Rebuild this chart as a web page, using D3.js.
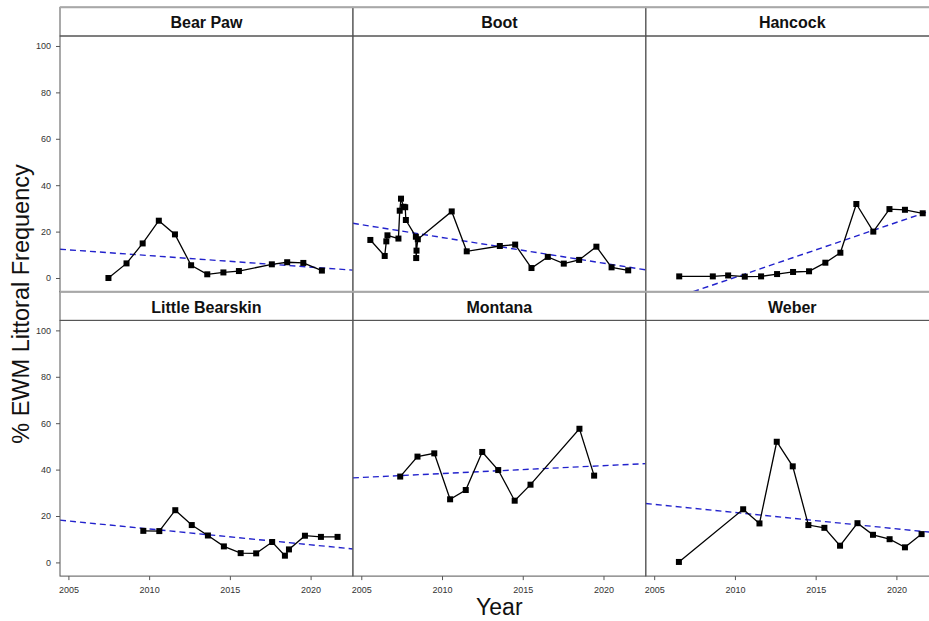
<!DOCTYPE html>
<html>
<head>
<meta charset="utf-8">
<script src="https://cdn.jsdelivr.net/npm/d3@7"></script>
<style>
  body { margin: 0; background: #fff; }
  svg { display: block; font-family: "Liberation Sans", Arial, sans-serif; }
</style>
</head>
<body>
<div id="chart"></div>
<script>
// lake names, in panel order (top row then bottom row)
var lakes = ["Bear Paw", "Boot", "Hancock", "Little Bearskin", "Montana", "Weber"];

// [year, % EWM littoral frequency] per lake
var bearPaw = [[2007.48, 0], [2008.6, 6.3], [2009.6, 14.9], [2010.6, 24.7], [2011.6, 18.8], [2012.6, 5.5],
               [2013.6, 1.6], [2014.6, 2.4], [2015.56, 3.0], [2017.6, 5.9], [2018.55, 6.8], [2019.55, 6.5], [2020.7, 3.2]];
var boot = [[2005.56, 16.4], [2006.45, 9.5], [2006.55, 15.8], [2006.62, 18.4], [2007.3, 17.0], [2007.38, 29.0],
            [2007.46, 34.2], [2007.62, 30.7], [2007.72, 30.5], [2007.76, 25.0], [2008.38, 17.8], [2008.4, 8.6],
            [2008.42, 11.8], [2008.5, 16.7], [2010.6, 28.7], [2011.53, 11.5], [2013.58, 13.8], [2014.53, 14.4],
            [2015.54, 4.3], [2016.55, 9.1], [2017.54, 6.2], [2018.49, 7.8], [2019.56, 13.5], [2020.5, 4.6], [2021.53, 3.3]];
var hancock = [[2006.55, 0.7], [2008.63, 0.7], [2009.58, 1.1], [2010.61, 0.6], [2011.62, 0.7], [2012.61, 1.7],
               [2013.6, 2.6], [2014.59, 2.9], [2015.6, 6.6], [2016.53, 10.9], [2017.52, 31.9], [2018.57, 20.0],
               [2019.57, 29.7], [2020.53, 29.4], [2021.63, 27.9]];
var littleBearskin = [[2009.64, 13.6], [2010.63, 13.5], [2011.62, 22.5], [2012.64, 16.1], [2013.64, 11.6],
                      [2014.63, 6.9], [2015.67, 4.0], [2016.63, 3.9], [2017.62, 8.8], [2018.41, 2.9], [2018.66, 5.6],
                      [2019.65, 11.5], [2020.64, 11.0], [2021.67, 11.0]];
var montana = [[2007.41, 37.0], [2008.48, 45.6], [2009.52, 47.0], [2010.5, 27.2], [2011.47, 31.2], [2012.49, 47.6],
               [2013.48, 39.8], [2014.5, 26.6], [2015.48, 33.5], [2018.51, 57.6], [2019.42, 37.4]];
var weber = [[2006.53, 0.2], [2010.51, 22.9], [2011.52, 16.8], [2012.59, 52.0], [2013.58, 41.4], [2014.55, 16.1],
             [2015.54, 14.9], [2016.51, 7.2], [2017.59, 16.9], [2018.55, 11.9], [2019.58, 10.0], [2020.53, 6.5],
             [2021.56, 12.2]];
var series = [bearPaw, boot, hancock, littleBearskin, montana, weber];

// fitted trend line, value at 2005 and at 2020
var trendAt2005 = [12.15, 23.0, -11.6, 17.85, 36.6, 25.0];
var trendAt2020 = [4.7, 6.4, 23.95, 7.6, 41.7, 14.5];
var trendYears = [2005, 2020];

var yTicks = [0, 20, 40, 60, 80, 100];
var xTicks = [2005, 2010, 2015, 2020];

var width = 929, height = 621;
var left = 60, top0 = 7.3;
var pw = 292.9, ph = 255.7, sh = 28.7;

var svg = d3.select("#chart").append("svg")
    .attr("width", width)
    .attr("height", height);

var x = d3.scaleLinear().domain([2004.48, 2022.62]).range([0, pw]);
var y = d3.scaleLinear().domain([-5.9, 104.3]).range([ph, 0]);

var line = d3.line()
    .x(function(d) { return x(d[0]); })
    .y(function(d) { return y(d[1]); });

lakes.forEach(function(name, i) {
    var col = i % 3, row = Math.floor(i / 3);
    var px = left + col * pw;
    var sy = top0 + row * (sh + ph);
    var py = sy + sh;

    var g = svg.append("g").attr("transform", "translate(" + px + "," + py + ")");

    svg.append("clipPath").attr("id", "clip" + i)
        .append("rect").attr("width", pw).attr("height", ph);

    // trend line (dashed blue), clipped to the panel
    var t = d3.scaleLinear().domain(trendYears).range([trendAt2005[i], trendAt2020[i]]);
    var ends = x.domain().map(function(yr) { return [yr, t(yr)]; });
    g.append("path")
        .attr("clip-path", "url(#clip" + i + ")")
        .attr("d", line(ends))
        .attr("fill", "none")
        .attr("stroke", "#2222cc")
        .attr("stroke-width", 1.4)
        .attr("stroke-dasharray", "6,4");

    // data line + square markers
    g.append("path")
        .attr("d", line(series[i]))
        .attr("fill", "none")
        .attr("stroke", "#000")
        .attr("stroke-width", 1.3);

    g.selectAll("rect.pt")
        .data(series[i])
        .enter()
        .append("rect")
        .attr("class", "pt")
        .attr("x", function(d) { return x(d[0]) - 3; })
        .attr("y", function(d) { return y(d[1]) - 3; })
        .attr("width", 6)
        .attr("height", 6)
        .attr("fill", "#000");

    // panel border
    g.append("rect")
        .attr("width", pw).attr("height", ph)
        .attr("fill", "none")
        .attr("stroke", "#555")
        .attr("stroke-width", 1);

    // strip
    svg.append("rect")
        .attr("x", px).attr("y", sy)
        .attr("width", pw).attr("height", sh)
        .attr("fill", "none")
        .attr("stroke", "#555")
        .attr("stroke-width", 1);
    svg.append("text")
        .attr("x", px + pw / 2)
        .attr("y", sy + 21)
        .attr("text-anchor", "middle")
        .style("font-size", "16px")
        .style("font-weight", "bold")
        .attr("fill", "#111")
        .text(name);

    if (col === 0) {
        var ya = g.append("g")
            .call(d3.axisLeft(y).tickValues(yTicks).tickSize(4).tickPadding(5));
        ya.select(".domain").remove();
        ya.selectAll("line").attr("stroke", "#555");
        ya.selectAll("text").attr("fill", "#333").style("font-size", "9px")
            .style("font-family", "Liberation Sans, Arial, sans-serif");
    }
    if (row === 1) {
        var xa = g.append("g")
            .attr("transform", "translate(0," + ph + ")")
            .call(d3.axisBottom(x).tickValues(xTicks).tickFormat(d3.format("d")).tickSize(4).tickPadding(7));
        xa.select(".domain").remove();
        xa.selectAll("line").attr("stroke", "#555");
        xa.selectAll("text").attr("fill", "#333").style("font-size", "9px")
            .style("font-family", "Liberation Sans, Arial, sans-serif");
    }
});

// lighter horizontal rules (top of strips and row joint)
[top0, top0 + sh + ph].forEach(function(yy) {
    svg.append("line")
        .attr("x1", left).attr("x2", left + 3 * pw)
        .attr("y1", yy).attr("y2", yy)
        .attr("stroke", "#a8a8a8")
        .attr("stroke-width", 2);
});

// axis titles
svg.append("text")
    .attr("transform", "translate(29," + 304 + ") rotate(-90)")
    .attr("text-anchor", "middle")
    .style("font-size", "23.5px")
    .attr("fill", "#111")
    .text("% EWM Littoral Frequency");

svg.append("text")
    .attr("x", left + 1.5 * pw)
    .attr("y", 615)
    .attr("text-anchor", "middle")
    .style("font-size", "23px")
    .attr("fill", "#111")
    .text("Year");
</script>
</body>
</html>
